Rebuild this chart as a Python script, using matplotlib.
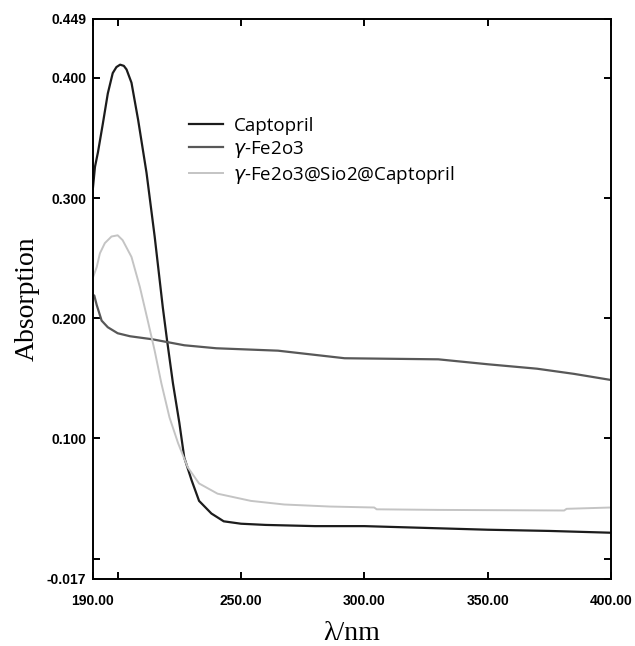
import matplotlib
matplotlib.use("Agg")
import matplotlib.pyplot as plt

# wavelength (nm) / absorption
wl_capt = [190, 190.8, 192, 194, 196, 198, 199.5, 201, 202.5, 203.6, 205.6, 208.3,
           211.7, 215, 218.3, 220, 222.4, 225, 227, 230, 233, 238, 243, 250,
           260, 280, 300, 325, 350, 375, 400]
abs_capt = [0.309, 0.326, 0.338, 0.362, 0.387, 0.404, 0.409, 0.411, 0.410, 0.407, 0.396, 0.365,
            0.321, 0.268, 0.209, 0.182, 0.146, 0.113, 0.084, 0.065, 0.048, 0.0375, 0.031, 0.029,
            0.028, 0.027, 0.027, 0.0255, 0.024, 0.023, 0.0215]

wl_fe = [190, 190.5, 191.5, 193.5, 196, 200, 205, 214, 227, 240, 265, 292,
         330, 350, 370, 385, 400]
abs_fe = [0.2175, 0.219, 0.211, 0.198, 0.1925, 0.1875, 0.185, 0.1825, 0.1775, 0.175, 0.173, 0.1667,
          0.1658, 0.1617, 0.158, 0.1537, 0.1486]

wl_comp = [190, 191.5, 192.8, 194.8, 197.5, 200, 202, 205.6, 209, 212.2, 215, 217.7,
           221, 224.5, 228.4, 233, 240.5, 254, 267.5, 286, 304, 305, 330, 381, 382, 400]
abs_comp = [0.234, 0.2425, 0.254, 0.2625, 0.268, 0.269, 0.265, 0.251, 0.226, 0.198, 0.173, 0.146,
            0.1175, 0.096, 0.076, 0.0625, 0.054, 0.048, 0.045, 0.0433, 0.0425, 0.041, 0.0405, 0.040, 0.0414, 0.0425]

labels = ["Captopril", "$\\gamma$-Fe2o3", "$\\gamma$-Fe2o3@Sio2@Captopril"]
colors = ["#1c1c1c", "#585858", "#c4c4c4"]

xticks = [190, 200, 250, 300, 350, 400]
xticklabels = ["190.00", "", "250.00", "300.00", "350.00", "400.00"]
yticks = [-0.017, 0.0, 0.1, 0.2, 0.3, 0.4, 0.449]
yticklabels = ["-0.017", "", "0.100", "0.200", "0.300", "0.400", "0.449"]

fig = plt.figure(figsize=(6.35, 6.46), dpi=100)
ax = fig.add_axes([93 / 635, 1 - 579 / 646, 518 / 635, 560 / 646])

ax.plot(wl_capt, abs_capt, color=colors[0], lw=1.6, label=labels[0])
ax.plot(wl_fe, abs_fe, color=colors[1], lw=1.6, label=labels[1])
ax.plot(wl_comp, abs_comp, color=colors[2], lw=1.4, label=labels[2])

ax.set_xlim(190, 400)
ax.set_ylim(-0.017, 0.449)

ax.set_xticks(xticks)
ax.set_xticklabels(xticklabels)
ax.set_yticks(yticks)
ax.set_yticklabels(yticklabels)
ax.tick_params(direction="in", length=5, width=1.4, top=True, right=True,
               labelsize=10)
ax.tick_params(axis="x", pad=11)
ax.tick_params(axis="y", pad=5)
for lab in ax.get_xticklabels() + ax.get_yticklabels():
    lab.set_fontfamily("Liberation Sans")
    lab.set_fontweight("bold")
for sp in ax.spines.values():
    sp.set_linewidth(1.4)

ax.set_ylabel("Absorption", family="Liberation Serif", fontsize=20)
ax.set_xlabel("λ/nm", family="Liberation Serif", fontsize=20)
ax.yaxis.set_label_coords(-0.103, 0.5)
ax.xaxis.set_label_coords(0.5, -0.075)

leg = ax.legend(loc="upper left", bbox_to_anchor=(0.186, 0.825), frameon=False,
                borderpad=0, borderaxespad=0, handlelength=1.8, handletextpad=0.55,
                labelspacing=0.2, prop={"family": "Open Sans", "size": 13.5})

fig.savefig("out.png", dpi=100)
